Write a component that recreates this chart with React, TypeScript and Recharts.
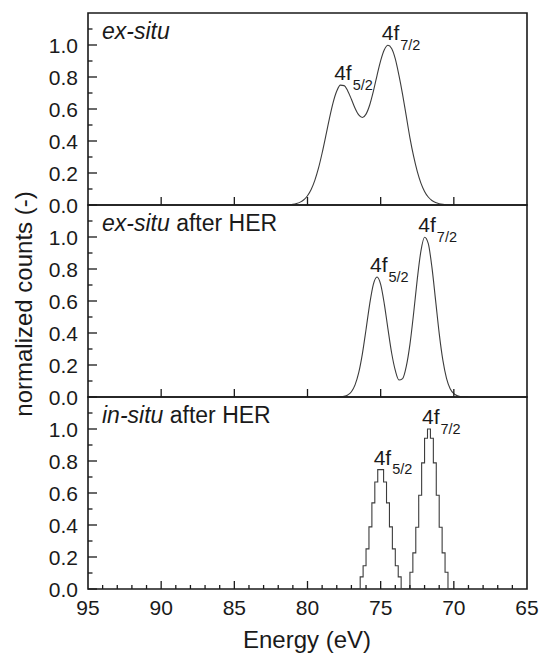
import { LineChart, Line, XAxis, YAxis, ReferenceArea, ReferenceDot } from "recharts";

// ex-situ spectrum
const exSituEnergy = [
    82, 81.75, 81.5, 81.25, 81, 80.75, 80.5, 80.25, 80, 79.75, 79.5, 79.25, 79,
    78.75, 78.5, 78.25, 78, 77.75, 77.5, 77.25, 77, 76.75, 76.5, 76.25, 76,
    75.75, 75.5, 75.25, 75, 74.75, 74.5, 74.25, 74, 73.75, 73.5, 73.25, 73,
    72.75, 72.5, 72.25, 72, 71.75, 71.5, 71.25, 71, 70.75, 70.5, 70.25, 70,
];
const exSituCounts = [
    0, 0, 0.001, 0.002, 0.004, 0.009, 0.018, 0.033, 0.058, 0.097, 0.154, 0.23, 0.325,
    0.432, 0.542, 0.64, 0.712, 0.749, 0.746, 0.713, 0.661, 0.605, 0.563, 0.547, 0.568,
    0.625, 0.71, 0.809, 0.902, 0.97, 0.998, 0.978, 0.913, 0.81, 0.69, 0.555, 0.42,
    0.305, 0.21, 0.137, 0.085, 0.05, 0.028, 0.015, 0.008, 0.004, 0.002, 0.001, 0,
];

// ex-situ after HER
const afterHerEnergy = [
    78, 77.75, 77.5, 77.25, 77, 76.75, 76.5, 76.25, 76, 75.75, 75.5, 75.25, 75,
    74.75, 74.5, 74.25, 74, 73.75, 73.5, 73.25, 73, 72.75, 72.5, 72.25, 72,
    71.75, 71.5, 71.25, 71, 70.75, 70.5, 70.25, 70, 69.75, 69.5, 69.25, 69,
];
const afterHerCounts = [
    0, 0.001, 0.004, 0.013, 0.033, 0.076, 0.152, 0.27, 0.422, 0.581, 0.704, 0.75, 0.704,
    0.581, 0.424, 0.275, 0.166, 0.106, 0.115, 0.191, 0.329, 0.522, 0.735, 0.912, 0.998,
    0.96, 0.813, 0.607, 0.398, 0.23, 0.117, 0.052, 0.021, 0.007, 0.002, 0.001, 0,
];

// in-situ after HER (stepped)
const inSituEnergy = [
    76.9, 76.7, 76.5, 76.3, 76.1, 75.9, 75.7, 75.5, 75.3, 75.1, 74.9, 74.7, 74.5,
    74.3, 74.1, 73.9, 73.7, 73.5, 73.3, 73.1, 72.9, 72.7, 72.5, 72.3, 72.1, 71.9,
    71.7, 71.5, 71.3, 71.1, 70.9, 70.7, 70.5, 70.3, 70.1,
];
const inSituCounts = [
    0, 0, 0, 0.076, 0.145, 0.251, 0.388, 0.538, 0.669, 0.746, 0.746, 0.669, 0.538,
    0.388, 0.251, 0.145, 0.076, 0, 0, 0, 0.105, 0.226, 0.386, 0.586, 0.788, 0.942,
    1.0, 0.942, 0.788, 0.586, 0.386, 0.226, 0.105, 0, 0,
];

const exSituPeaks = [
    { energy: 77.7, counts: 0.75, sub: "5/2" },
    { energy: 74.45, counts: 1.0, sub: "7/2" },
];
const afterHerPeaks = [
    { energy: 75.25, counts: 0.75, sub: "5/2" },
    { energy: 71.95, counts: 1.0, sub: "7/2" },
];
const inSituPeaks = [
    { energy: 75.0, counts: 0.746, sub: "5/2" },
    { energy: 71.7, counts: 1.0, sub: "7/2" },
];

const yTicks = [0, 0.1, 0.2, 0.3, 0.4, 0.5, 0.6, 0.7, 0.8, 0.9, 1.0, 1.1];
const xMajorTicks = [90, 85, 80, 75, 70];
const xAllTicks = [
    95, 94, 93, 92, 91, 90, 89, 88, 87, 86, 85, 84, 83, 82, 81, 80,
    79, 78, 77, 76, 75, 74, 73, 72, 71, 70, 69, 68, 67, 66, 65,
];

const FONT = '"Liberation Sans", Arial, Helvetica, sans-serif';
const INK = "#1a1a1a";
const CURVE = "#3c3c3c";

const WIDTH = 541;
const PLOT_LEFT = 88;
const PANEL_H = 192;
const MARGIN_TOP = 10;
const PLOT_BOTTOM = MARGIN_TOP + PANEL_H;

function zip(energy: number[], counts: number[]) {
    return energy.map((e, i) => ({ energy: e, counts: counts[i] }));
}

function renderYTick(props: any) {
    const { y, payload } = props;
    const v = payload.value as number;
    const major = Math.round(v * 10) % 2 === 0;
    return (
        <g>
            <line
                x1={PLOT_LEFT}
                x2={PLOT_LEFT + (major ? 9 : 4.5)}
                y1={y}
                y2={y}
                stroke={INK}
                strokeWidth={1.3}
            />
            {major && (
                <text
                    x={PLOT_LEFT - 10}
                    y={y}
                    dy="0.36em"
                    textAnchor="end"
                    fontSize={21}
                    fontFamily={FONT}
                    fill={INK}
                >
                    {v.toFixed(1)}
                </text>
            )}
        </g>
    );
}

function makeXTick(labelled: boolean) {
    return (props: any) => {
        const { x, payload } = props;
        const v = payload.value as number;
        const major = v % 5 === 0;
        const edge = v === 95 || v === 65;
        return (
            <g>
                {!edge && (
                    <line
                        x1={x}
                        x2={x}
                        y1={PLOT_BOTTOM}
                        y2={PLOT_BOTTOM - (major ? 8 : 4)}
                        stroke={INK}
                        strokeWidth={1.3}
                    />
                )}
                {labelled && major && (
                    <text
                        x={x}
                        y={PLOT_BOTTOM + 26}
                        textAnchor="middle"
                        fontSize={21}
                        fontFamily={FONT}
                        fill={INK}
                    >
                        {v}
                    </text>
                )}
            </g>
        );
    };
}

function makePeakLabel(sub: string) {
    return (props: any) => {
        const vb = props.viewBox || {};
        const cx = (vb.x ?? 0) + (vb.width ?? 0) / 2;
        const cy = (vb.y ?? 0) + (vb.height ?? 0) / 2;
        return (
            <text
                x={cx - 7}
                y={cy - 5}
                fontSize={21}
                fontFamily={FONT}
                fill={INK}
            >
                4f
                <tspan dx={1} dy={9.5} fontSize={14.5}>
                    {sub}
                </tspan>
            </text>
        );
    };
}

interface PanelProps {
    data: { energy: number; counts: number }[];
    peaks: { energy: number; counts: number; sub: string }[];
    index: number;
    step?: boolean;
    bottom?: boolean;
}

function Panel({ data, peaks, index, step, bottom }: PanelProps) {
    const xAxisH = bottom ? 40 : 14;
    const height = MARGIN_TOP + PANEL_H + xAxisH;
    const top = 13 - MARGIN_TOP + PANEL_H * index;

    return (
        <div style={{ position: "absolute", left: 0, top, width: WIDTH, height }}>
            <LineChart
                width={WIDTH}
                height={height}
                data={data}
                margin={{ top: MARGIN_TOP, right: 14, bottom: 0, left: 28 }}
            >
                <XAxis
                    dataKey="energy"
                    type="number"
                    domain={[65, 95]}
                    reversed
                    allowDataOverflow
                    ticks={bottom ? xAllTicks : xMajorTicks}
                    interval={0}
                    tickLine={false}
                    axisLine={false}
                    tickSize={0}
                    height={xAxisH}
                    tick={makeXTick(!!bottom)}
                />
                <YAxis
                    type="number"
                    domain={[0, 1.2]}
                    allowDataOverflow
                    ticks={yTicks}
                    interval={0}
                    width={60}
                    tickLine={false}
                    axisLine={false}
                    tickSize={0}
                    tick={renderYTick}
                />
                <ReferenceArea
                    x1={95}
                    x2={65}
                    y1={0}
                    y2={1.2}
                    fill="none"
                    fillOpacity={0}
                    stroke={INK}
                    strokeWidth={1.6}
                />
                <Line
                    dataKey="counts"
                    type={step ? "step" : "monotone"}
                    stroke={CURVE}
                    strokeWidth={1.1}
                    dot={false}
                    isAnimationActive={false}
                />
                {peaks.map((p) => (
                    <ReferenceDot
                        key={p.sub}
                        x={p.energy}
                        y={p.counts}
                        r={0}
                        fill="none"
                        stroke="none"
                        label={makePeakLabel(p.sub)}
                    />
                ))}
            </LineChart>
        </div>
    );
}

export default function App() {
    const titleStyle = { fontSize: 23, fontFamily: FONT, fill: INK };

    return (
        <div style={{ position: "absolute", left: 0, top: 0, width: WIDTH, height: 660, background: "#fff" }}>
            <Panel data={zip(exSituEnergy, exSituCounts)} peaks={exSituPeaks} index={0} />
            <Panel data={zip(afterHerEnergy, afterHerCounts)} peaks={afterHerPeaks} index={1} />
            <Panel data={zip(inSituEnergy, inSituCounts)} peaks={inSituPeaks} index={2} step bottom />

            <svg
                width={WIDTH}
                height={660}
                style={{ position: "absolute", left: 0, top: 0, pointerEvents: "none" }}
            >
                <text x={102} y={39} {...titleStyle}>
                    <tspan fontStyle="italic">ex-situ</tspan>
                </text>
                <text x={102} y={231} {...titleStyle}>
                    <tspan fontStyle="italic">ex-situ</tspan> after HER
                </text>
                <text x={102} y={423} {...titleStyle}>
                    <tspan fontStyle="italic">in-situ</tspan> after HER
                </text>

                <text
                    transform="translate(32,304) rotate(-90)"
                    textAnchor="middle"
                    fontSize={24}
                    fontFamily={FONT}
                    fill={INK}
                >
                    normalized counts (-)
                </text>
                <text
                    x={307}
                    y={648}
                    textAnchor="middle"
                    fontSize={24}
                    fontFamily={FONT}
                    fill={INK}
                >
                    Energy (eV)
                </text>
            </svg>
        </div>
    );
}
